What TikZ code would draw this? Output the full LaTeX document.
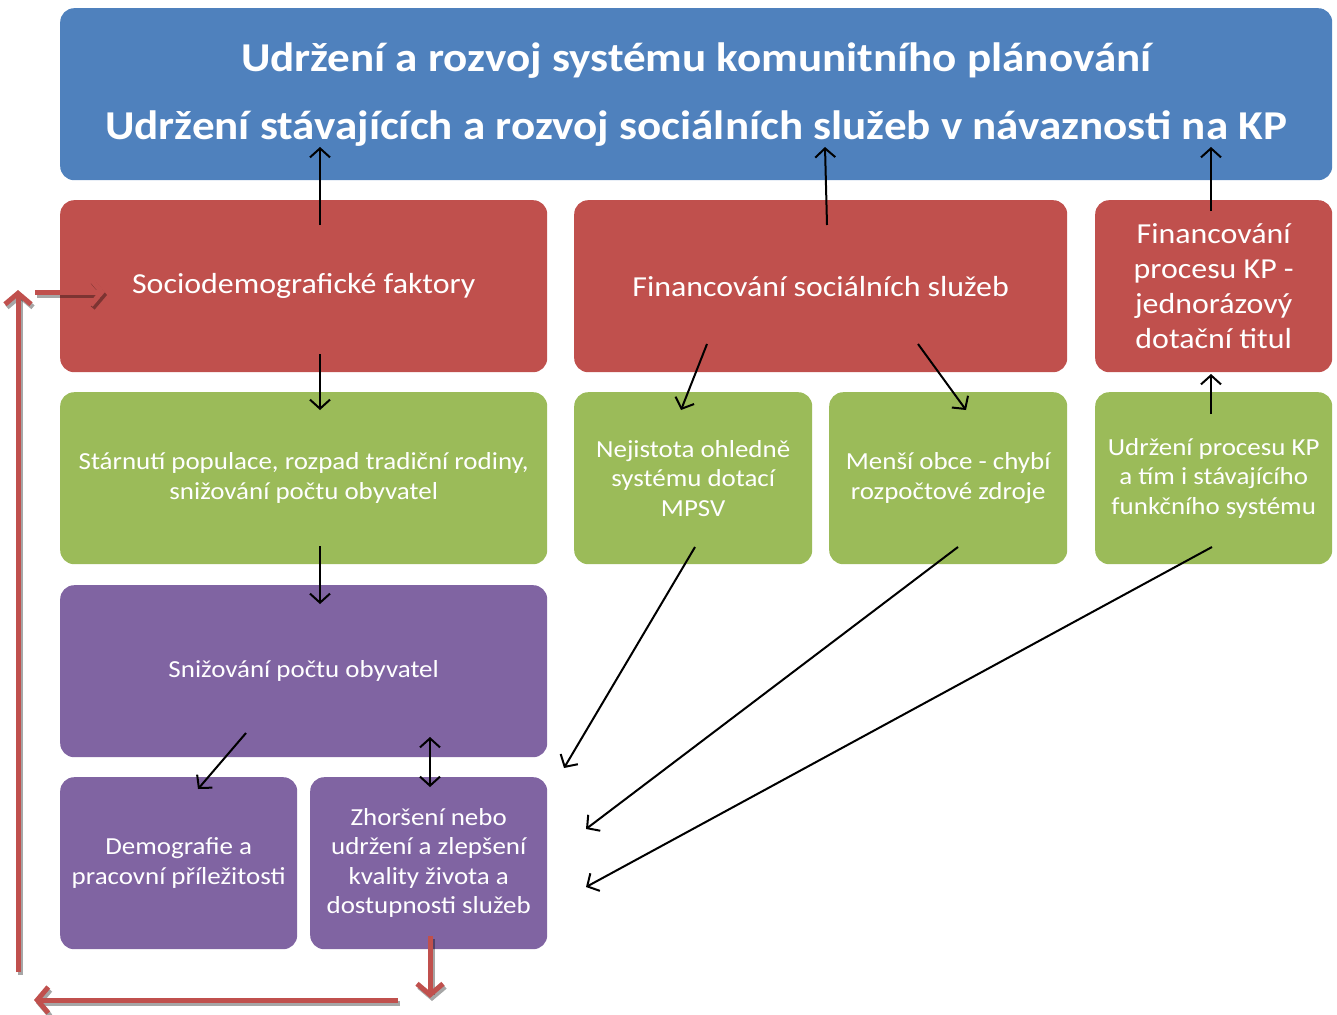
\documentclass[tikz,border=0pt]{standalone}
\usepackage{fontspec}
\setmainfont{Carlito}[FakeStretch=1.1]
\usetikzlibrary{arrows.meta}
\definecolor{cblue}{HTML}{4F81BD}
\definecolor{cred}{HTML}{C0504D}
\definecolor{cgreen}{HTML}{9BBB59}
\definecolor{cpurple}{HTML}{8064A2}
\tikzset{
  box/.style={rounded corners=14pt, draw=none, text=white, align=center, inner sep=0pt, anchor=north west},
  redtxt/.style={font=\fontsize{29}{35}\selectfont},
  grntxt/.style={font=\fontsize{24.5}{29.5}\selectfont},
  blk/.style={draw=black, line width=2pt, -{Straight Barb[length=9pt,width=20pt]}},
  blk2/.style={draw=black, line width=2pt, {Straight Barb[length=9pt,width=20pt]}-{Straight Barb[length=9pt,width=20pt]}},
  redar/.style={draw=cred, line width=5pt, -{Straight Barb[length=11pt,width=26pt]}},
  shad/.style={draw=black, draw opacity=0.35, line width=5pt, -{Straight Barb[length=11pt,width=26pt]}, transform canvas={shift={(2pt,-3pt)}}},
}
\begin{document}
\begin{tikzpicture}[x=1pt,y=-1pt]
\useasboundingbox (0,0) rectangle (1337,1014);
% boxes
\node[box, fill=cblue, minimum width=1272pt, minimum height=172pt, font=\bfseries\fontsize{41}{68}\selectfont] (top) at (60,8) {Udržení a rozvoj systému komunitního plánování\\Udržení stávajících a rozvoj sociálních služeb v návaznosti na KP};
\node[box, fill=cred, minimum width=487pt, minimum height=172pt, redtxt] (r1) at (60,200) {Sociodemografické faktory};
\node[box, fill=cred, minimum width=493pt, minimum height=172pt, redtxt] (r2) at (574,200) {Financování sociálních služeb};
\node[box, fill=cred, minimum width=237pt, minimum height=172pt, redtxt] (r3) at (1095,200) {Financování\\procesu KP -\\jednorázový\\dotační titul};
\node[box, fill=cgreen, minimum width=487pt, minimum height=172pt, grntxt] (g1) at (60,392) {Stárnutí populace, rozpad tradiční rodiny,\\snižování počtu obyvatel};
\node[box, fill=cgreen, minimum width=238pt, minimum height=172pt, grntxt] (g2) at (574,392) {Nejistota ohledně\\systému dotací\\MPSV};
\node[box, fill=cgreen, minimum width=238pt, minimum height=172pt, grntxt] (g3) at (829,392) {Menší obce - chybí\\rozpočtové zdroje};
\node[box, fill=cgreen, minimum width=237pt, minimum height=172pt, grntxt] (g4) at (1095,392) {Udržení procesu KP\\a tím i stávajícího\\funkčního systému};
\node[box, fill=cpurple, minimum width=487pt, minimum height=172pt, grntxt] (p1) at (60,585) {Snižování počtu obyvatel};
\node[box, fill=cpurple, minimum width=237pt, minimum height=172pt, grntxt] (p2) at (60,777) {Demografie a\\pracovní příležitosti};
\node[box, fill=cpurple, minimum width=237pt, minimum height=172pt, grntxt] (p3) at (310,777) {Zhoršení nebo\\udržení a zlepšení\\kvality života a\\dostupnosti služeb};
% coordinates
\coordinate (a1s) at (320,225); \coordinate (a1e) at (320,147);
\coordinate (a2s) at (827,225); \coordinate (a2e) at (825,147);
\coordinate (a3s) at (1211,211); \coordinate (a3e) at (1211,147);
\coordinate (b1s) at (320,354); \coordinate (b1e) at (320,410);
\coordinate (b2s) at (707,344); \coordinate (b2e) at (681,410);
\coordinate (b3s) at (918,344); \coordinate (b3e) at (966,410);
\coordinate (b4s) at (1211,414); \coordinate (b4e) at (1211,374);
\coordinate (c1s) at (320,546); \coordinate (c1e) at (320,604);
\coordinate (d1s) at (695,547); \coordinate (d1e) at (564,768);
\coordinate (d2s) at (958,547); \coordinate (d2e) at (586,829);
\coordinate (d3s) at (1212,547); \coordinate (d3e) at (586,887);
\coordinate (e1s) at (246,733); \coordinate (e1e) at (198,789);
\coordinate (e2s) at (430,737); \coordinate (e2e) at (430,787);
% black arrows
\draw[blk] (a1s) -- (a1e);
\draw[blk] (a2s) -- (a2e);
\draw[blk] (a3s) -- (a3e);
\draw[blk] (b1s) -- (b1e);
\draw[blk] (b2s) -- (b2e);
\draw[blk] (b3s) -- (b3e);
\draw[blk] (b4s) -- (b4e);
\draw[blk] (c1s) -- (c1e);
\draw[blk] (d1s) -- (d1e);
\draw[blk] (d2s) -- (d2e);
\draw[blk] (d3s) -- (d3e);
\draw[blk] (e1s) -- (e1e);
\draw[blk2] (e2s) -- (e2e);
% red loop arrows
\coordinate (f1s) at (430,936); \coordinate (f1e) at (430,998);
\coordinate (f2s) at (398,1000); \coordinate (f2e) at (34,1000);
\coordinate (f3s) at (18,972); \coordinate (f3e) at (18,290);
\coordinate (f4s) at (35,292); \coordinate (f4e) at (105,292);
\draw[shad] (f1s) -- (f1e);
\draw[shad] (f2s) -- (f2e);
\draw[shad] (f3s) -- (f3e);
\draw[shad] (f4s) -- (f4e);
\draw[redar] (f1s) -- (f1e);
\draw[redar] (f2s) -- (f2e);
\draw[redar] (f3s) -- (f3e);
\draw[redar] (f4s) -- (f4e);
\end{tikzpicture}
\end{document}
